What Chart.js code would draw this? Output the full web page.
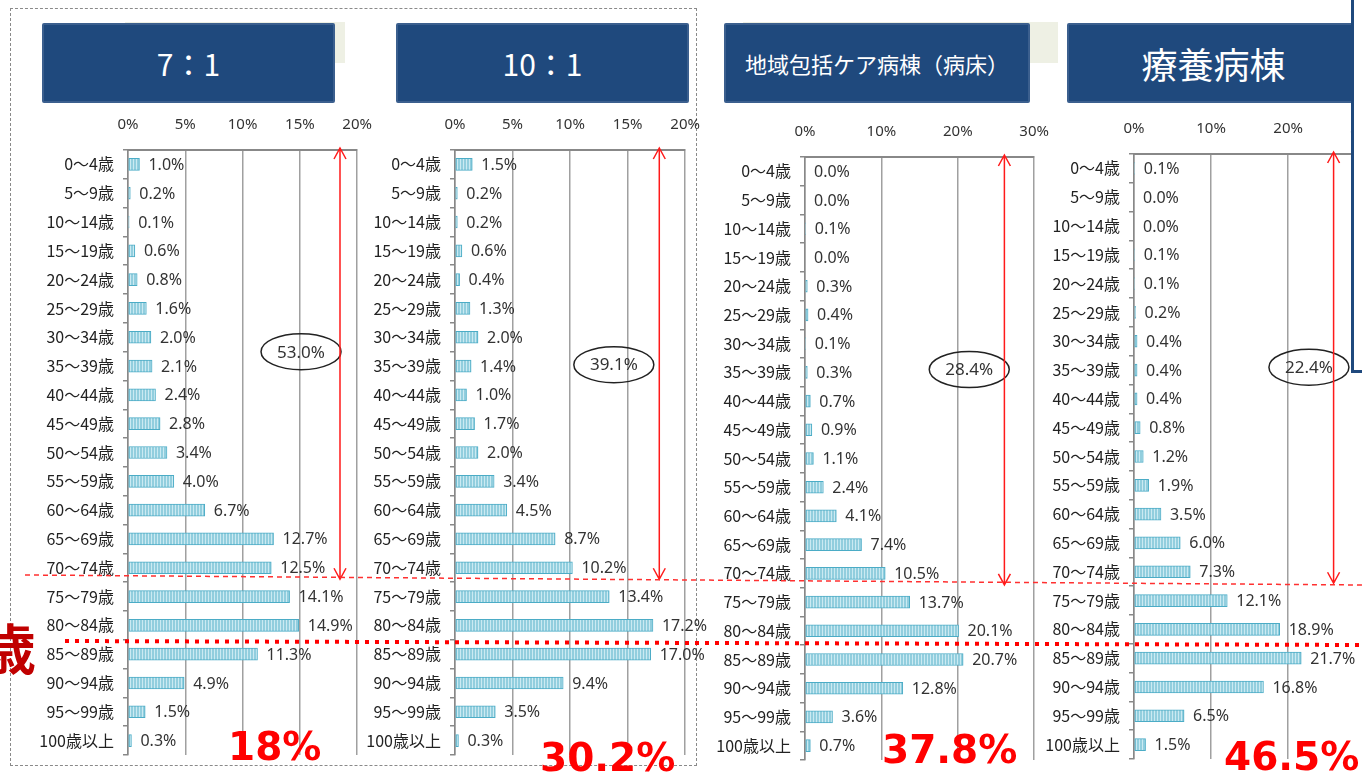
<!DOCTYPE html>
<html lang="ja">
<head>
<meta charset="utf-8">
<title>病棟別 年齢構成</title>
<script src="https://cdn.jsdelivr.net/npm/chart.js@4.4.0/dist/chart.umd.min.js"></script>
<style>
  html, body { margin: 0; padding: 0; background: #fff; width: 1362px; height: 774px; overflow: hidden; }
  body { position: relative; font-family: "Noto Sans CJK JP", "Noto Sans", sans-serif; }
  canvas { position: absolute; }
  .frame { position: absolute; left: 10px; top: 8px; width: 687px; height: 758px; border: 1.5px dashed #8a8a8a; box-sizing: border-box; }
  .shade { position: absolute; background: #eef0e4; }
  .head { position: absolute; top: 23px; height: 80px; box-sizing: border-box; background: #1f497d; border: 2px solid #3b5f8e; border-radius: 2px;
          color: #fff; display: flex; align-items: center; justify-content: center; font-family: "Noto Sans CJK JP", sans-serif; }
  .big { position: absolute; color: #ff0000; font: bold 39px/1 "DejaVu Sans", sans-serif; white-space: nowrap; }
  .sai { position: absolute; left: -18px; top: 620px; color: #c00000; font: bold 54px/1 "Noto Sans CJK JP", sans-serif; }
  .cover { position: absolute; left: 1351px; top: 0; width: 11px; height: 370px; background: #fff; border-left: 3px solid #1f497d; border-bottom: 3px solid #1f497d; }
</style>
</head>
<body>
<div class="frame"></div>
<div class="shade" style="left:125px;top:22px;width:220px;height:41px"></div>
<div class="shade" style="left:743px;top:22px;width:315px;height:41px"></div>

<div class="head" id="h0" style="left:42px;width:293px;font-size:30px"></div>
<div class="head" id="h1" style="left:396px;width:293px;font-size:30px"></div>
<div class="head" id="h2" style="left:724px;width:306px;font-size:22px"></div>
<div class="head" id="h3" style="left:1067px;width:293px;font-size:36px"></div>

<canvas id="c0"></canvas>
<canvas id="c1"></canvas>
<canvas id="c2"></canvas>
<canvas id="c3"></canvas>
<canvas id="overlay" width="1362" height="774" style="left:0;top:0;pointer-events:none"></canvas>

<div class="cover"></div>
<div class="sai">歳</div>
<div class="big" id="b0" style="left:228px;top:727px"></div>
<div class="big" id="b1" style="left:540px;top:738px"></div>
<div class="big" id="b2" style="left:882px;top:730px"></div>
<div class="big" id="b3" style="left:1224px;top:737px"></div>

<script>
const ageLabels = ["0～4歳", "5～9歳", "10～14歳", "15～19歳", "20～24歳", "25～29歳", "30～34歳",
  "35～39歳", "40～44歳", "45～49歳", "50～54歳", "55～59歳", "60～64歳", "65～69歳", "70～74歳",
  "75～79歳", "80～84歳", "85～89歳", "90～94歳", "95～99歳", "100歳以上"];

const ward7to1 = [1.0, 0.2, 0.1, 0.6, 0.8, 1.6, 2.0, 2.1, 2.4, 2.8, 3.4, 4.0, 6.7, 12.7, 12.5, 14.1, 14.9, 11.3, 4.9, 1.5, 0.3];
const ward10to1 = [1.5, 0.2, 0.2, 0.6, 0.4, 1.3, 2.0, 1.4, 1.0, 1.7, 2.0, 3.4, 4.5, 8.7, 10.2, 13.4, 17.2, 17.0, 9.4, 3.5, 0.3];
const communityCare = [0.0, 0.0, 0.1, 0.0, 0.3, 0.4, 0.1, 0.3, 0.7, 0.9, 1.1, 2.4, 4.1, 7.4, 10.5, 13.7, 20.1, 20.7, 12.8, 3.6, 0.7];
const longTermCare = [0.1, 0.0, 0.0, 0.1, 0.1, 0.2, 0.4, 0.4, 0.4, 0.8, 1.2, 1.9, 3.5, 6.0, 7.3, 12.1, 18.9, 21.7, 16.8, 6.5, 1.5];

const panelTitles = ["7：1", "10：1", "地域包括ケア病棟（病床）", "療養病棟"];
const axisMax = [20, 20, 30, 30];
const axisStep = [5, 5, 10, 10];
const under75Share = ["53.0%", "39.1%", "28.4%", "22.4%"];
const over85Share = ["18%", "30.2%", "37.8%", "46.5%"];

// plot area of each panel on the page
const Y_W = 110, X_H = 40, PAD_R = 30, PAD_B = 30;
const boxes = [
  { x: 128, y: 150, w: 230, h: 605 },
  { x: 455, y: 150, w: 231, h: 605 },
  { x: 805, y: 157, w: 230, h: 603 },
  { x: 1134, y: 154, w: 232, h: 605 }
];
// ellipse centre (value, category index) and arrow x value
const marks = [
  { ex: 15.1, ey: 6.5, ax: 18.5 },
  { ex: 13.8, ey: 6.95, ax: 17.75 },
  { ex: 21.5, ey: 6.9, ax: 26.1 },
  { ex: 22.7, ey: 6.9, ax: 25.9 }
];

function hatch() {
  const p = document.createElement("canvas");
  p.width = 3; p.height = 12;
  const g = p.getContext("2d");
  g.fillStyle = "#92cede";
  g.fillRect(0, 0, 3, 12);
  g.fillStyle = "#cbeaf2";
  g.fillRect(1, 0, 1, 12);
  return g.createPattern(p, "repeat");
}

const valueLabels = {
  id: "valueLabels",
  afterDatasetsDraw(chart) {
    const ctx = chart.ctx;
    const vals = chart.data.datasets[0].data;
    ctx.save();
    ctx.font = '16px "Noto Sans", sans-serif';
    ctx.fillStyle = "#333";
    ctx.textBaseline = "middle";
    chart.getDatasetMeta(0).data.forEach((bar, i) => {
      ctx.fillText(vals[i].toFixed(1) + "%", bar.x + 9, bar.y + 1);
    });
    ctx.restore();
  }
};

function notes(m, label) {
  return {
    id: "notes",
    afterDraw(chart) {
      const ctx = chart.ctx, xs = chart.scales.x, ys = chart.scales.y;
      ctx.save();
      // ellipse with share
      const cx = xs.getPixelForValue(m.ex), cy = ys.getPixelForValue(m.ey);
      ctx.strokeStyle = "#222";
      ctx.lineWidth = 1.5;
      ctx.beginPath();
      ctx.ellipse(cx, cy, 40, 18, 0, 0, Math.PI * 2);
      ctx.stroke();
      ctx.font = '17px "Noto Sans", sans-serif';
      ctx.fillStyle = "#333";
      ctx.textAlign = "center";
      ctx.textBaseline = "middle";
      ctx.fillText(label, cx, cy + 1);
      // red double arrow down to the 75 boundary
      const ax = xs.getPixelForValue(m.ax);
      const top = chart.chartArea.top - 2, bot = ys.getPixelForValue(14.4);
      ctx.strokeStyle = "#ff1a1a";
      ctx.lineWidth = 1.5;
      ctx.beginPath();
      ctx.moveTo(ax, top); ctx.lineTo(ax, bot);
      ctx.moveTo(ax - 6, top + 11); ctx.lineTo(ax, top); ctx.lineTo(ax + 6, top + 11);
      ctx.moveTo(ax - 6, bot - 11); ctx.lineTo(ax, bot); ctx.lineTo(ax + 6, bot - 11);
      ctx.stroke();
      ctx.restore();
    }
  };
}

function buildChart(i, values) {
  const box = boxes[i];
  const cv = document.getElementById("c" + i);
  cv.width = Y_W + box.w + PAD_R;
  cv.height = X_H + box.h + PAD_B;
  cv.style.left = (box.x - Y_W) + "px";
  cv.style.top = (box.y - X_H) + "px";
  const ctx = cv.getContext("2d");
  return new Chart(ctx, {
    type: "bar",
    data: {
      labels: ageLabels,
      datasets: [{
        data: values,
        backgroundColor: hatch(),
        borderColor: "#4bacc6",
        borderWidth: 1,
        borderSkipped: false,
        barThickness: 12
      }]
    },
    options: {
      indexAxis: "y",
      responsive: false,
      animation: false,
      devicePixelRatio: 1,
      layout: { padding: { left: 0, top: 0, right: PAD_R, bottom: PAD_B } },
      plugins: { legend: { display: false }, tooltip: { enabled: false } },
      scales: {
        x: {
          position: "top",
          min: 0,
          max: axisMax[i],
          ticks: {
            stepSize: axisStep[i],
            callback: v => v + "%",
            font: { family: '"Noto Sans", sans-serif', size: 15 },
            color: "#333",
            padding: 16
          },
          grid: { color: "#a0a0a0", lineWidth: 1.5, drawTicks: false },
          border: { color: "#888", width: 2 },
          afterFit: s => { s.height = X_H; }
        },
        y: {
          ticks: {
            font: { family: '"Noto Sans CJK JP", sans-serif', size: 16 },
            color: "#222",
            padding: 9,
            autoSkip: false
          },
          grid: { drawOnChartArea: false, tickLength: 5, color: "#888", lineWidth: 1.5 },
          border: { color: "#888", width: 1.5 },
          afterFit: s => { s.width = Y_W; }
        }
      }
    },
    plugins: [valueLabels, notes(marks[i], under75Share[i])]
  });
}

[ward7to1, ward10to1, communityCare, longTermCare].forEach((vals, i) => {
  buildChart(i, vals);
  document.getElementById("h" + i).textContent = panelTitles[i];
  document.getElementById("b" + i).textContent = over85Share[i];
});

// red guide lines across all panels
const o = document.getElementById("overlay").getContext("2d");
o.strokeStyle = "#ff3030";
o.lineWidth = 1.5;
o.setLineDash([5, 4]);
o.beginPath();
o.moveTo(25, 575); o.lineTo(1362, 585);
o.stroke();
o.strokeStyle = "#ff0000";
o.lineWidth = 4;
o.setLineDash([4, 6]);
o.beginPath();
o.moveTo(65, 641); o.lineTo(1362, 645);
o.stroke();
</script>
</body>
</html>
